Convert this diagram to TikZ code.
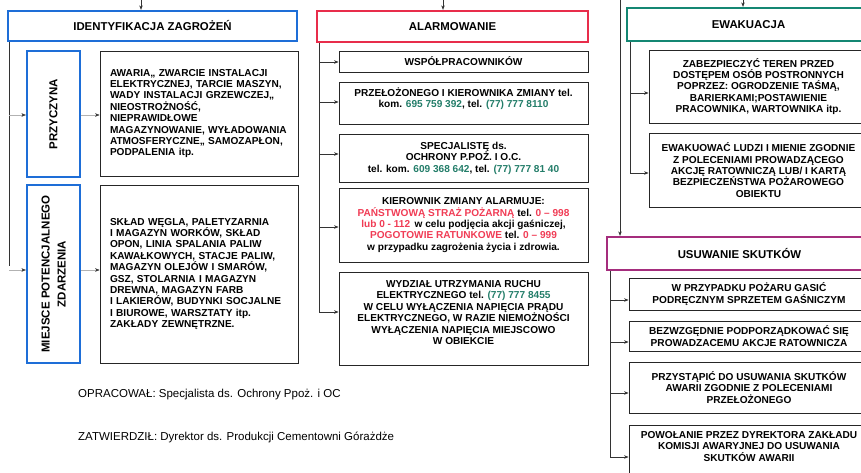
\documentclass[tikz,border=0pt]{standalone}
\usepackage{fontspec}
\setmainfont{Liberation Sans}
\usetikzlibrary{arrows.meta}
\definecolor{bblue}{RGB}{30,110,215}
\definecolor{rred}{RGB}{232,45,75}
\definecolor{tteal}{RGB}{20,135,115}
\definecolor{mmag}{RGB}{165,45,125}
\definecolor{numteal}{RGB}{35,125,105}
\definecolor{numred}{RGB}{240,60,85}
\begin{document}
\begin{tikzpicture}[x=1pt,y=-1pt,
  box/.style={draw=black!85, line width=0.9pt, inner sep=0pt, align=center,
    font=\bfseries\fontsize{10.1}{11.4}\selectfont},
  txt/.style={inner sep=0pt, align=center, font=\bfseries\fontsize{10.1}{11.4}\selectfont},
  head/.style={line width=2.2pt, inner sep=0pt, font=\bfseries\fontsize{11.4}{13}\selectfont},
  side/.style={draw=bblue, line width=2.2pt, inner sep=0pt, align=center,
    font=\bfseries\fontsize{11.5}{16}\selectfont},
  conn/.style={draw=black!80, line width=0.6pt},
  arr/.style={conn, -{Stealth[length=4.5pt,width=3.5pt]}},
  farr/.style={draw=black!30, line width=0.4pt, -{Stealth[length=4.5pt,width=3.5pt,color=black!80]}},
  foot/.style={inner sep=0pt, anchor=west, font=\fontsize{11.5}{12}\selectfont}
]
\useasboundingbox (0,0) rectangle (861,473);
\clip (0,0) rectangle (861,473);

% headings
\node[head, draw=bblue, minimum width=289pt, minimum height=30pt] (ident) at (152.5,26) {IDENTYFIKACJA ZAGROŻEŃ};
\node[head, draw=rred, minimum width=271pt, minimum height=31pt] (alarm) at (452.5,26.5) {ALARMOWANIE};
\node[head, draw=tteal, minimum width=243pt, minimum height=33pt] (ewak) at (748.5,24.5) {EWAKUACJA};
\node[head, draw=mmag, minimum width=265pt, minimum height=33pt] (usuw) at (739.5,253.5) {USUWANIE SKUTKÓW};

% identification column
\node[side, rotate=90, minimum width=126pt, minimum height=53pt] (przy) at (53.5,114) {PRZYCZYNA};
\node[side, rotate=90, minimum width=178pt, minimum height=53pt] (miej) at (53.5,274) {MIEJSCE POTENCJALNEGO\\ZDARZENIA};
\node[box, minimum width=198pt, minimum height=125pt, text width=178pt, align=left] (c1) at (199,113.5) {AWARIA,, ZWARCIE INSTALACJI\\
ELEKTRYCZNEJ, TARCIE MASZYN,\\
WADY INSTALACJI GRZEWCZEJ,,\\
NIEOSTROŻNOŚĆ,\\
NIEPRAWIDŁOWE\\
MAGAZYNOWANIE, WYŁADOWANIA\\
ATMOSFERYCZNE,, SAMOZAPŁON,\\
PODPALENIA itp.};
\node[box, minimum width=198pt, minimum height=178pt, text width=178pt, align=left] (c2) at (199,274) {SKŁAD WĘGLA, PALETYZARNIA\\
I MAGAZYN WORKÓW, SKŁAD\\
OPON, LINIA SPALANIA PALIW\\
KAWAŁKOWYCH, STACJE PALIW,\\
MAGAZYN OLEJÓW I SMARÓW,\\
GSZ, STOLARNIA I MAGAZYN\\
DREWNA, MAGAZYN FARB\\
I LAKIERÓW, BUDYNKI SOCJALNE\\
I BIUROWE, WARSZTATY itp.\\
ZAKŁADY ZEWNĘTRZNE.};

% alarm column
\node[box, minimum width=249pt, minimum height=21pt] (a1) at (463.5,61.5) {WSPÓŁPRACOWNIKÓW};
\node[box, minimum width=249pt, minimum height=42pt] (a2) at (463.5,103) {};
\node[txt] (a2t) at (463.5,99) {PRZEŁOŻONEGO I KIEROWNIKA ZMIANY tel.\\
kom. {\color{numteal}695 759 392}, tel. {\color{numteal}(77) 777 8110}};
\node[box, minimum width=249pt, minimum height=48pt] (a3) at (463.5,158) {SPECJALISTĘ ds.\\
OCHRONY P.POŻ. I O.C.\\
tel. kom. {\color{numteal}609 368 642}, tel. {\color{numteal}(77) 777 81 40}};
\node[box, minimum width=249pt, minimum height=74pt] (a4) at (463.5,225) {KIEROWNIK ZMIANY ALARMUJE:\\
{\color{numred}PAŃSTWOWĄ STRAŻ POŻARNĄ} tel. {\color{numred}0 -- 998}\\
{\color{numred}lub 0 - 112}\, w celu podjęcia akcji gaśniczej,\\
{\color{numred}POGOTOWIE RATUNKOWE} tel. {\color{numred}0 -- 999}\\
w przypadku zagrożenia życia i zdrowia.};
\node[box, minimum width=249pt, minimum height=93pt] (a5) at (463.5,318.5) {};
\node[txt] (a5t) at (463.5,312.5) {WYDZIAŁ UTRZYMANIA RUCHU\\
ELEKTRYCZNEGO tel. {\color{numteal}(77) 777 8455}\\
W CELU WYŁĄCZENIA NAPIĘCIA PRĄDU\\
ELEKTRYCZNEGO, W RAZIE NIEMOŻNOŚCI\\
WYŁĄCZENIA NAPIĘCIA MIEJSCOWO\\
W OBIEKCIE};

% evacuation column
\node[box, minimum width=219pt, minimum height=73pt] (e1) at (758.5,86.5) {ZABEZPIECZYĆ TEREN PRZED\\
DOSTĘPEM OSÓB POSTRONNYCH\\
POPRZEZ: OGRODZENIE TAŚMĄ,\\
BARIERKAMI;POSTAWIENIE\\
PRACOWNIKA, WARTOWNIKA itp.};
\node[box, minimum width=219pt, minimum height=74pt] (e2) at (758.5,170) {EWAKUOWAĆ LUDZI I MIENIE ZGODNIE\\
Z POLECENIAMI PROWADZĄCEGO\\
AKCJĘ RATOWNICZĄ LUB/ I KARTĄ\\
BEZPIECZEŃSTWA POŻAROWEGO\\
OBIEKTU};

% removal column
\node[box, minimum width=240pt, minimum height=32pt] (u1) at (749,294) {W PRZYPADKU POŻARU GASIĆ\\
PODRĘCZNYM SPRZETEM GAŚNICZYM};
\node[box, minimum width=240pt, minimum height=30pt] (u2) at (749,336) {BEZWZGĘDNIE PODPORZĄDKOWAĆ SIĘ\\
PROWADZACEMU AKCJE RATOWNICZA};
\node[box, minimum width=240pt, minimum height=51pt] (u3) at (749,387.5) {PRZYSTĄPIĆ DO USUWANIA SKUTKÓW\\
AWARII ZGODNIE Z POLECENIAMI\\
PRZEŁOŻONEGO};
\node[box, minimum width=240pt, minimum height=55pt] (u4) at (749,452.5) {};
\node[txt] (u4t) at (749,446.5) {POWOŁANIE PRZEZ DYREKTORA ZAKŁADU\\
KOMISJI AWARYJNEJ DO USUWANIA\\
SKUTKÓW AWARII};

% footer
\node[foot] (f1) at (78,395) {OPRACOWAŁ: Specjalista ds. Ochrony Ppoż. i OC};
\node[foot] (f2) at (78,437) {ZATWIERDZIŁ: Dyrektor ds. Produkcji Cementowni Górażdże};

% incoming arrows from the top
\coordinate (t1) at (141,0);
\coordinate (t2) at (443,0);
\coordinate (t3) at (743,0);
\coordinate (t4) at (620,0);
\draw[arr] (t1) -- (t1 |- ident.north);
\draw[arr] (t2) -- (t2 |- alarm.north);
\draw[arr] (t3) -- (t3 |- ewak.north);
\draw[arr] (t4) -- (t4 |- usuw.north);

% identification connectors
\coordinate (i1) at (9,115);
\coordinate (i2) at (9,270);
\draw[conn] (i1 |- ident.south) -- (9,266);
\draw[farr] (i1) -- (i1 -| przy.north);
\draw[farr] (i2) -- (i2 -| miej.north);
\draw[farr] (przy.south |- i1) -- (c1.west |- i1);
\draw[farr] (miej.south |- i2) -- (c2.west |- i2);

% alarm connectors
\coordinate (v1) at (319,62);
\coordinate (v2) at (319,102);
\coordinate (v3) at (319,154);
\coordinate (v4) at (319,227);
\coordinate (v5) at (319,312);
\draw[conn] (v1 |- alarm.south) -- (v5);
\draw[arr] (v1) -- (v1 -| a1.west);
\draw[arr] (v2) -- (v2 -| a2.west);
\draw[arr] (v3) -- (v3 -| a3.west);
\draw[arr] (v4) -- (v4 -| a4.west);
\draw[arr] (v5) -- (v5 -| a5.west);

% evacuation connectors
\coordinate (w1) at (630,93);
\coordinate (w2) at (630,173);
\draw[conn] (w1 |- ewak.south) -- (w2);
\draw[arr] (w1) -- (w1 -| e1.west);
\draw[arr] (w2) -- (w2 -| e2.west);

% removal connectors
\coordinate (s1) at (610,300);
\coordinate (s2) at (610,342);
\coordinate (s3) at (610,393);
\coordinate (s4) at (610,457);
\draw[conn] (s1 |- usuw.south) -- (s4);
\draw[arr] (s1) -- (s1 -| u1.west);
\draw[arr] (s2) -- (s2 -| u2.west);
\draw[arr] (s3) -- (s3 -| u3.west);
\draw[arr] (s4) -- (s4 -| u4.west);
\end{tikzpicture}
\end{document}
